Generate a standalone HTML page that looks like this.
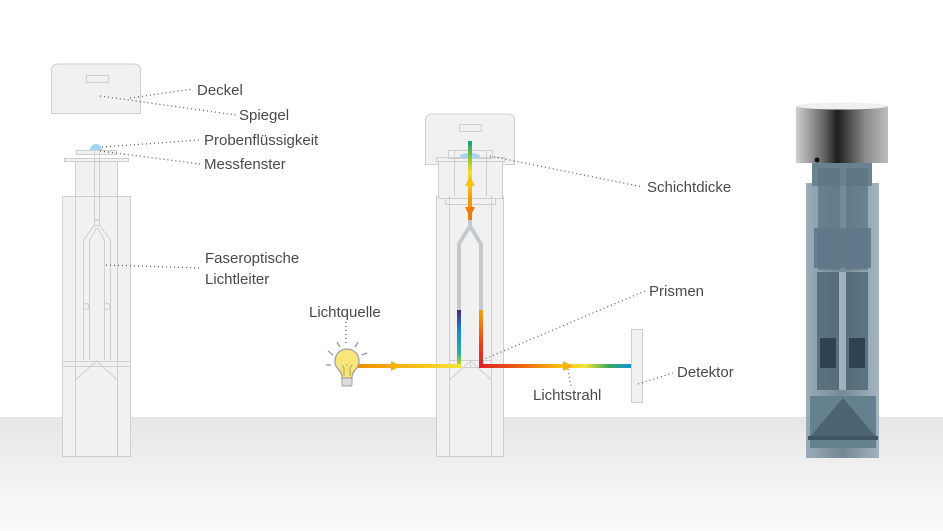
<!DOCTYPE html>
<html><head><meta charset="utf-8"><style>
html,body{margin:0;padding:0;background:#fff;}
svg{display:block}
text{font-family:"Liberation Sans",sans-serif;font-size:15px;fill:#4a4a4a}
</style></head><body>
<svg width="943" height="531" viewBox="0 0 943 531" xmlns="http://www.w3.org/2000/svg">
<defs>
<linearGradient id="gnd" x1="0" y1="0" x2="0" y2="1"><stop offset="0" stop-color="#e6e6e6"/><stop offset="1" stop-color="#fbfbfb"/></linearGradient>
<linearGradient id="lamp" x1="0" x2="1"><stop offset="0" stop-color="#f08a00"/><stop offset="0.6" stop-color="#f7c21a"/><stop offset="1" stop-color="#f4e43a"/></linearGradient>
<linearGradient id="out" x1="0" x2="1"><stop offset="0" stop-color="#e01f2b"/><stop offset="0.3" stop-color="#ee6a10"/><stop offset="0.55" stop-color="#f8c414"/><stop offset="0.7" stop-color="#f4e43a"/><stop offset="0.85" stop-color="#3aaa5a"/><stop offset="1" stop-color="#1590d8"/></linearGradient>
<linearGradient id="lb" x1="0" y1="0" x2="0" y2="1"><stop offset="0" stop-color="#4a2a8a"/><stop offset="0.4" stop-color="#1a8ad0"/><stop offset="0.8" stop-color="#2ab0a0"/><stop offset="1" stop-color="#b0d020"/></linearGradient>
<linearGradient id="rb" x1="0" y1="0" x2="0" y2="1"><stop offset="0" stop-color="#f7a010"/><stop offset="0.6" stop-color="#e8401a"/><stop offset="1" stop-color="#e01f2b"/></linearGradient>
<linearGradient id="up" x1="0" y1="0" x2="0" y2="1"><stop offset="0" stop-color="#139a8a"/><stop offset="0.2" stop-color="#8ac030"/><stop offset="0.4" stop-color="#f4e030"/><stop offset="0.7" stop-color="#f7a010"/><stop offset="1" stop-color="#ee7a00"/></linearGradient>
<linearGradient id="cap" x1="0" x2="1"><stop offset="0" stop-color="#d0d0d0"/><stop offset="0.3" stop-color="#666"/><stop offset="0.45" stop-color="#1e1e1e"/><stop offset="0.75" stop-color="#8a8a8a"/><stop offset="1" stop-color="#bdbdbd"/></linearGradient>
<linearGradient id="bod" x1="0" x2="1"><stop offset="0" stop-color="#8a9fac"/><stop offset="0.5" stop-color="#5d7584"/><stop offset="1" stop-color="#95aab6"/></linearGradient>
</defs>
<rect x="0" y="417" width="943" height="114" fill="url(#gnd)"/>
<g fill="#f1f1f1" stroke="#cfcfcf" stroke-width="1">
<path d="M51.5 113.5V70a6 6 0 0 1 6-6h77a6 6 0 0 1 6 6v43.5z"/>
<rect x="86.5" y="75.5" width="22" height="7"/>
<rect x="62.5" y="196.5" width="68" height="260"/>
<rect x="75.5" y="160.5" width="42" height="36"/>
<line x1="75.5" y1="196" x2="75.5" y2="456"/><line x1="117.5" y1="196" x2="117.5" y2="456"/>
<rect x="64.5" y="158.5" width="64" height="3"/>
<rect x="76.5" y="150.5" width="40" height="4"/>
<path d="M94.5 152V220H99.5V152" fill="none"/>
<rect x="94.5" y="220.5" width="5" height="5"/>
<path d="M94.5 225 L83.5 240 V360 M99.5 225 L110.5 240 V360 M96.5 228 L89.5 240 V360 M97.5 228 L104.5 240 V360" fill="none"/>
<rect x="83.5" y="303.5" width="5" height="6" rx="2"/><rect x="104.5" y="303.5" width="5" height="6" rx="2"/>
<rect x="62.5" y="361.5" width="68" height="5"/>
<path d="M75.5 361V380L96.5 361L117.5 380V361" fill="none"/>
<rect x="436.5" y="196.5" width="67" height="260"/>
<rect x="445.5" y="190.5" width="50" height="14"/>
<path d="M425.5 164.5V120a6 6 0 0 1 6-6h77a6 6 0 0 1 6 6v44.5z"/>
<rect x="459.5" y="124.5" width="22" height="7"/>
<rect x="438.5" y="160.5" width="64" height="38"/>
<rect x="436.5" y="157.5" width="68" height="4"/>
<rect x="448.5" y="150.5" width="44" height="8" fill="none"/>
<line x1="449.5" y1="196" x2="449.5" y2="456"/><line x1="491.5" y1="196" x2="491.5" y2="456"/>
<line x1="454.5" y1="150" x2="454.5" y2="196"/><line x1="486.5" y1="150" x2="486.5" y2="196"/>
<rect x="449.5" y="360.5" width="21" height="7"/><rect x="470.5" y="360.5" width="21" height="7"/>
<path d="M449.5 367V380L470.5 361L491.5 380V367" fill="none"/>
<rect x="631.5" y="329.5" width="11" height="73"/>
</g>
<path d="M90 150a6 6 0 0 1 12 0z" fill="#9fd4f2"/>
<ellipse cx="470" cy="156" rx="10" ry="3" fill="#a6d6f4"/>
<path d="M470 220V226L459 244V310M470 226L481 244V310" fill="none" stroke="#c3c9cd" stroke-width="4"/>
<rect x="468" y="141" width="4" height="79" fill="url(#up)"/>
<path d="M465 186h10l-5-10z" fill="#f6c410"/>
<path d="M465 207h10l-5 10z" fill="#ee7a00"/>
<rect x="457" y="310" width="4" height="54" fill="url(#lb)"/>
<rect x="479" y="310" width="4" height="56" fill="url(#rb)"/>
<rect x="356" y="364" width="105" height="4" fill="url(#lamp)"/>
<rect x="479" y="364" width="152" height="4" fill="url(#out)"/>
<path d="M391 361v10l10-5z" fill="#f6b010"/>
<path d="M563 361v10l10-5z" fill="#f6b010"/>
<g stroke="#9a9a9a" stroke-width="1.3" fill="none">
<line x1="333" y1="355" x2="328" y2="351"/><line x1="340" y1="347" x2="337" y2="342"/><line x1="355" y1="347" x2="358" y2="342"/><line x1="362" y1="355" x2="367" y2="353"/><line x1="331" y1="365" x2="326" y2="365"/>
</g>
<path d="M347 349a12 12 0 0 0-8 21c2 2 3 5 3 8h10c0-3 1-6 3-8a12 12 0 0 0-8-21z" fill="#f8e67a" stroke="#a0a0a0" stroke-width="1.3"/>
<rect x="342" y="378" width="10" height="8" rx="1.5" fill="#ddd" stroke="#a0a0a0"/>
<path d="M344 376v-8M350 376v-8M344 368l-2-3M347 366v-2M350 368l2-3" stroke="#b0a060" fill="none"/>
<rect x="806" y="183" width="73" height="275" fill="url(#bod)" opacity="0.85"/>
<rect x="812" y="162" width="60" height="24" fill="#6a8290"/>
<rect x="818" y="168" width="22" height="102" fill="#5a7382" opacity="0.7"/><rect x="846" y="168" width="22" height="102" fill="#5a7382" opacity="0.7"/>
<rect x="814" y="228" width="57" height="40" fill="#5f7888" opacity="0.9"/>
<rect x="817" y="272" width="22" height="118" fill="#4d6573" opacity="0.8"/><rect x="846" y="272" width="22" height="118" fill="#4d6573" opacity="0.8"/>
<rect x="820" y="338" width="16" height="30" fill="#2d4252"/><rect x="849" y="338" width="16" height="30" fill="#2d4252"/>
<rect x="839" y="272" width="7" height="118" fill="#9fb1bc"/>
<rect x="810" y="396" width="66" height="52" fill="#65808e"/>
<path d="M810 437L843 398L876 437z" fill="#4a6472"/>
<rect x="808" y="436" width="70" height="4" fill="#3e5664"/>
<path d="M796 106H888V163H796z" fill="url(#cap)"/>
<ellipse cx="842" cy="106" rx="46" ry="3.5" fill="#f0f0f0"/>
<circle cx="817" cy="160" r="2.5" fill="#111"/>
<g stroke="#555" stroke-width="1.2" stroke-dasharray="1 3" fill="none">
<line x1="130" y1="98" x2="193" y2="89"/>
<line x1="100" y1="96" x2="236" y2="115"/>
<line x1="102" y1="147" x2="200" y2="140"/>
<line x1="100" y1="151" x2="200" y2="164"/>
<line x1="106" y1="265" x2="200" y2="268"/>
<line x1="346" y1="322" x2="346" y2="345"/>
<line x1="490" y1="156" x2="643" y2="187"/>
<line x1="482" y1="360" x2="645" y2="291"/>
<line x1="568" y1="369" x2="571" y2="387"/>
<line x1="638" y1="384" x2="673" y2="373"/>
</g>
<text x="197" y="95">Deckel</text>
<text x="239" y="120">Spiegel</text>
<text x="204" y="145">Probenflüssigkeit</text>
<text x="204" y="169">Messfenster</text>
<text x="205" y="263">Faseroptische</text>
<text x="205" y="284">Lichtleiter</text>
<text x="309" y="317">Lichtquelle</text>
<text x="647" y="192">Schichtdicke</text>
<text x="649" y="296">Prismen</text>
<text x="677" y="377">Detektor</text>
<text x="533" y="400">Lichtstrahl</text>
</svg>
</body></html>
